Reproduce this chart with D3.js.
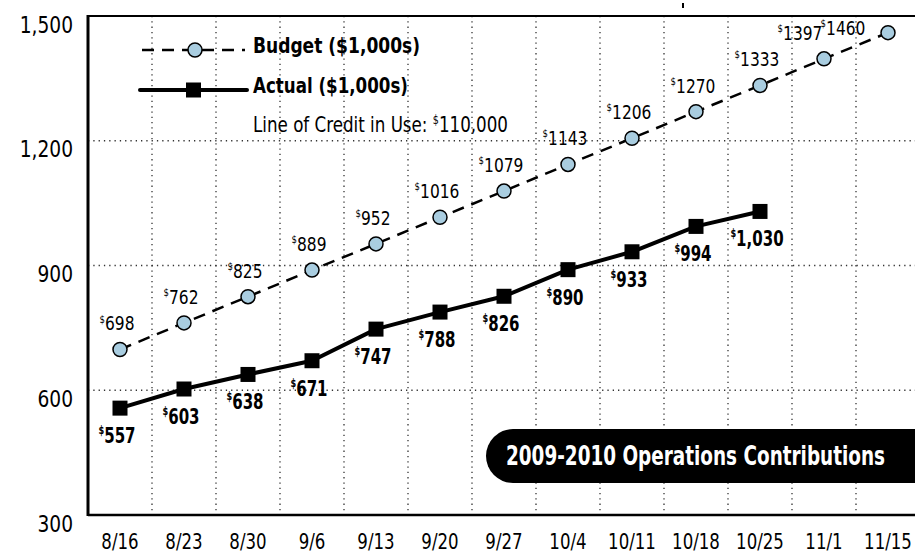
<!DOCTYPE html>
<html>
<head>
<meta charset="utf-8">
<script src="https://cdn.jsdelivr.net/npm/d3@7"></script>
<style>
	body { margin: 0; background: #fff; }
	svg text { font-family: "DejaVu Sans Condensed", "Liberation Sans Narrow", sans-serif; fill: #000; }
	.grid line { stroke: #333; stroke-width: 1.3; stroke-dasharray: 1.3 4; }
</style>
</head>
<body>
<div id="chart"></div>
<script>
	var weeks = ["8/16", "8/23", "8/30", "9/6", "9/13", "9/20", "9/27", "10/4", "10/11", "10/18", "10/25", "11/1", "11/15"];
	var budget = [698, 762, 825, 889, 952, 1016, 1079, 1143, 1206, 1270, 1333, 1397, 1460];
	var actual = [557, 603, 638, 671, 747, 788, 826, 890, 933, 994, 1030];
	var yTicks = [300, 600, 900, 1200, 1500];

	var width = 915, height = 554;
	var plotLeft = 88, plotTop = 16, plotBottom = 515;

	var svg = d3.select("#chart").append("svg")
		.attr("width", width)
		.attr("height", height);

	var x = d3.scaleBand().domain(weeks).range([plotLeft, plotLeft + 64 * weeks.length]);
	var y = d3.scaleLinear().domain([300, 1500]).range([plotBottom, plotTop]);

	// the original font is a condensed one, so squeeze the text sideways
	function squeeze(sel, s) {
		sel.each(function() {
			var t = d3.select(this);
			var tx = +t.attr("x") || 0, ty = +t.attr("y") || 0;
			t.attr("x", null).attr("y", null)
				.attr("transform", "translate(" + tx + "," + ty + ") scale(" + s + ",1)");
		});
	}

	// dotted grid
	var grid = svg.append("g").classed("grid", true);
	grid.selectAll("line.h")
		.data(yTicks.filter(function(d) { return d > 300 && d < 1500; }))
		.enter().append("line")
		.attr("x1", plotLeft).attr("x2", width)
		.attr("y1", function(d) { return y(d); })
		.attr("y2", function(d) { return y(d); });
	grid.selectAll("line.v")
		.data(weeks.slice(1))
		.enter().append("line")
		.attr("x1", function(d) { return x(d); })
		.attr("x2", function(d) { return x(d); })
		.attr("y1", plotTop).attr("y2", plotBottom);

	// frame
	svg.append("line").attr("x1", plotLeft).attr("x2", width).attr("y1", plotTop).attr("y2", plotTop)
		.attr("stroke", "#000").attr("stroke-width", 2);
	svg.append("line").attr("x1", plotLeft).attr("x2", width).attr("y1", plotBottom).attr("y2", plotBottom)
		.attr("stroke", "#000").attr("stroke-width", 2.5);
	svg.append("line").attr("x1", plotLeft).attr("x2", plotLeft).attr("y1", plotTop - 1).attr("y2", plotBottom + 1)
		.attr("stroke", "#000").attr("stroke-width", 3);
	svg.append("rect").attr("x", 682).attr("y", 3).attr("width", 2).attr("height", 5).attr("fill", "#000");

	// axes (labels only)
	var yAxis = svg.append("g")
		.attr("transform", "translate(" + (plotLeft - 15) + ",0)")
		.call(d3.axisLeft(y).tickValues(yTicks).tickSize(0).tickPadding(0).tickFormat(d3.format(",")));
	yAxis.select(".domain").remove();
	yAxis.selectAll("text").attr("font-size", 23).attr("dy", null).attr("y", 16);
	squeeze(yAxis.selectAll("text"), 0.9);

	var xAxis = svg.append("g")
		.attr("transform", "translate(0," + (plotBottom + 34) + ")")
		.call(d3.axisBottom(x).tickSize(0).tickPadding(0));
	xAxis.select(".domain").remove();
	xAxis.selectAll("text").attr("font-size", 22).attr("dy", null).attr("y", 0);
	squeeze(xAxis.selectAll("text"), 0.84);

	function cx(i) { return x(weeks[i]) + x.bandwidth() / 2; }

	// budget series
	var budgetLine = d3.line()
		.x(function(d, i) { return cx(i); })
		.y(function(d) { return y(d); });

	svg.append("path")
		.attr("d", budgetLine(budget))
		.attr("fill", "none")
		.attr("stroke", "#000")
		.attr("stroke-width", 2.5)
		.attr("stroke-dasharray", "12 8");

	svg.append("g").selectAll("circle")
		.data(budget).enter().append("circle")
		.attr("cx", function(d, i) { return cx(i); })
		.attr("cy", function(d) { return y(d); })
		.attr("r", 7)
		.attr("fill", "#a9cde0")
		.attr("stroke", "#000")
		.attr("stroke-width", 1.5);

	var last = budget.length - 1;
	var bLabels = svg.append("g").selectAll("text")
		.data(budget).enter().append("text")
		.attr("x", function(d, i) {
			if (i == last) return cx(i) - 45;
			if (i == last - 1) return cx(i) - 24;
			return cx(i) - 3;
		})
		.attr("y", function(d, i) {
			if (i == last) return y(d) + 2;
			return y(d) - 19;
		})
		.attr("text-anchor", "middle")
		.attr("font-size", 20);
	bLabels.append("tspan").attr("font-size", 11).attr("dy", -8).text("$");
	bLabels.append("tspan").attr("dy", 8).text(function(d) { return d; });
	squeeze(bLabels, 0.86);

	// actual series
	var actualLine = d3.line()
		.x(function(d, i) { return cx(i); })
		.y(function(d) { return y(d); });

	svg.append("path")
		.attr("d", actualLine(actual))
		.attr("fill", "none")
		.attr("stroke", "#000")
		.attr("stroke-width", 4)
		.attr("stroke-linejoin", "round");

	svg.append("g").selectAll("rect")
		.data(actual).enter().append("rect")
		.attr("x", function(d, i) { return cx(i) - 7.5; })
		.attr("y", function(d) { return y(d) - 7.5; })
		.attr("width", 15)
		.attr("height", 15)
		.attr("fill", "#000");

	var aLabels = svg.append("g").selectAll("text")
		.data(actual).enter().append("text")
		.attr("x", function(d, i) { return cx(i) - 3; })
		.attr("y", function(d) { return y(d) + 35; })
		.attr("text-anchor", "middle")
		.attr("font-size", 22)
		.attr("font-weight", "bold");
	aLabels.append("tspan").attr("font-size", 12).attr("dy", -9).text("$");
	aLabels.append("tspan").attr("dy", 9).text(function(d) { return d3.format(",")(d); });
	squeeze(aLabels, 0.76);

	// legend
	var legend = svg.append("g");
	legend.append("line").attr("x1", 142).attr("x2", 245).attr("y1", 50).attr("y2", 50)
		.attr("stroke", "#000").attr("stroke-width", 2.5).attr("stroke-dasharray", "12 8");
	legend.append("circle").attr("cx", 195).attr("cy", 50).attr("r", 7)
		.attr("fill", "#a9cde0").attr("stroke", "#000").attr("stroke-width", 1.5);
	legend.append("text").attr("x", 253).attr("y", 53).attr("font-size", 21).attr("font-weight", "bold")
		.attr("textLength", 167).attr("lengthAdjust", "spacingAndGlyphs")
		.text("Budget ($1,000s)");

	legend.append("line").attr("x1", 140).attr("x2", 247).attr("y1", 90).attr("y2", 90)
		.attr("stroke", "#000").attr("stroke-width", 4).attr("stroke-linecap", "round");
	legend.append("rect").attr("x", 186).attr("y", 82.5).attr("width", 15).attr("height", 15).attr("fill", "#000");
	legend.append("text").attr("x", 253).attr("y", 93).attr("font-size", 21).attr("font-weight", "bold")
		.attr("textLength", 155).attr("lengthAdjust", "spacingAndGlyphs")
		.text("Actual ($1,000s)");

	var credit = legend.append("text").attr("x", 253).attr("y", 132).attr("font-size", 21)
		.attr("textLength", 255).attr("lengthAdjust", "spacingAndGlyphs");
	credit.append("tspan").text("Line of Credit in Use: ");
	credit.append("tspan").attr("font-size", 12).attr("dy", -8).text("$");
	credit.append("tspan").attr("dy", 8).text("110,000");

	// title pill
	svg.append("rect")
		.attr("x", 486).attr("y", 429)
		.attr("width", 480).attr("height", 54)
		.attr("rx", 27).attr("ry", 27)
		.attr("fill", "#000");
	svg.append("text")
		.attr("x", 506).attr("y", 465)
		.attr("font-size", 27)
		.attr("font-weight", "bold")
		.attr("textLength", 379).attr("lengthAdjust", "spacingAndGlyphs")
		.style("fill", "#fff")
		.text("2009-2010 Operations Contributions");
</script>
</body>
</html>
